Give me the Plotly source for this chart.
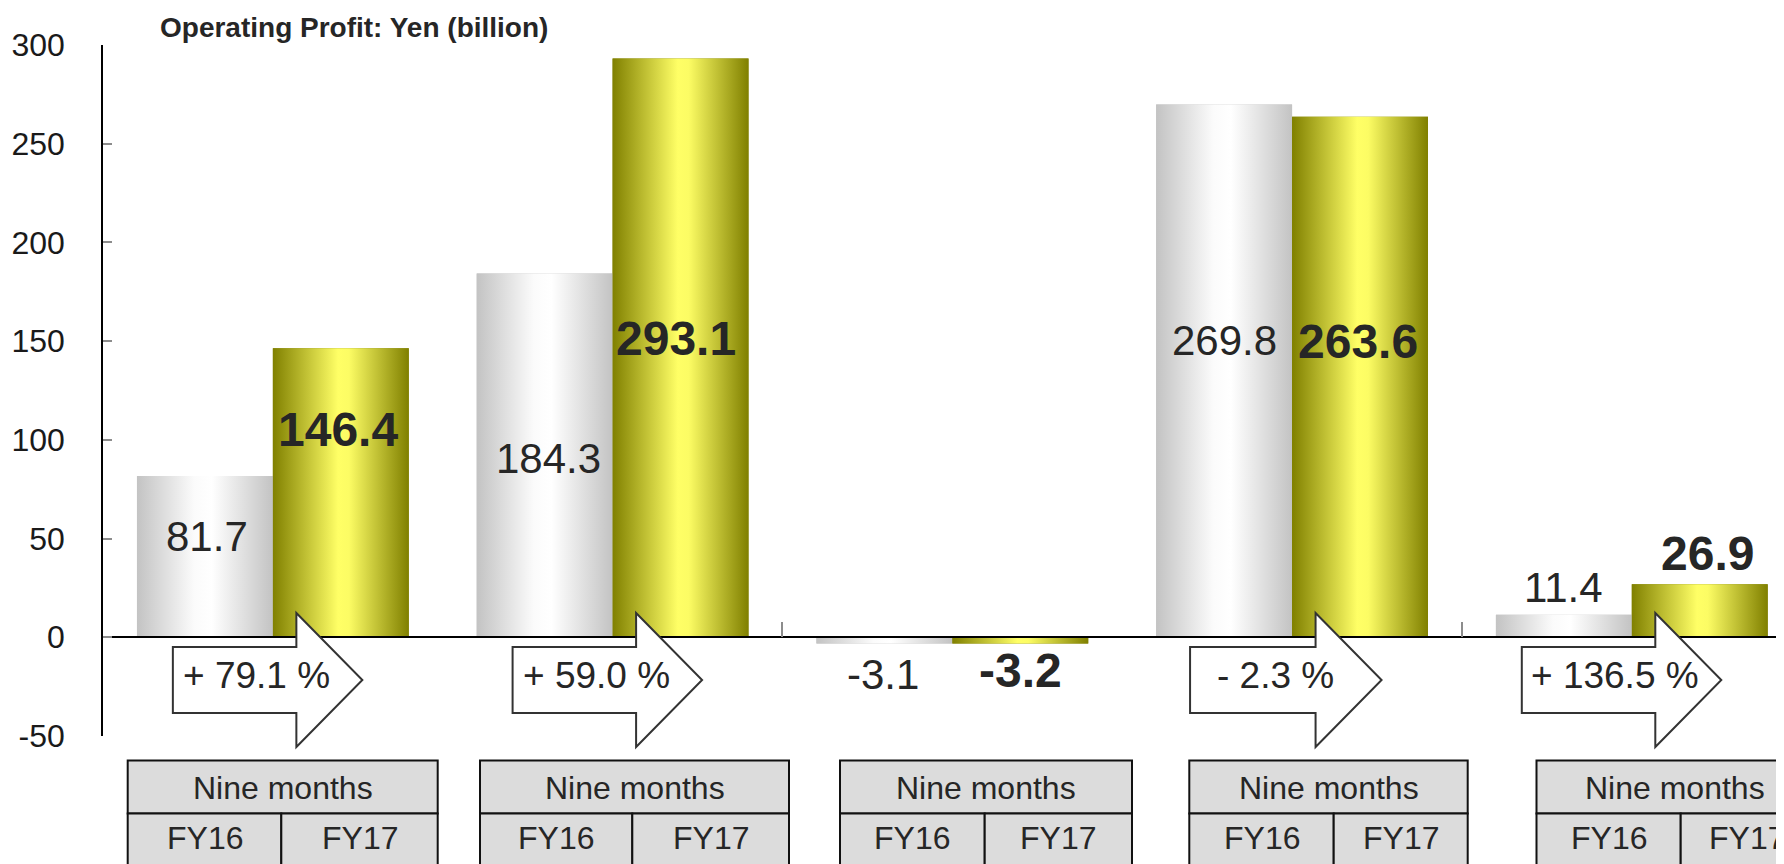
import plotly.graph_objects as go

# ---------------- data ----------------
SERIES_NAMES = ["FY16", "FY17"]
FY16 = [81.7, 184.3, -3.1, 269.8, 11.4]
FY17 = [146.4, 293.1, -3.2, 263.6, 26.9]
CHANGE_LABELS = ["+ 79.1 %", "+ 59.0 %", "", "- 2.3 %", "+ 136.5 %"]
PERIOD_LABEL = "Nine months"
TITLE = "Operating Profit: Yen (billion)"
Y_TICKS = [-50, 0, 50, 100, 150, 200, 250, 300]
Y_TICK_TEXT = ["-50", "0", "50", "100", "150", "200", "250", "300"]
BOLD_SERIES = [False, True]

# ---------------- layout constants ----------------
OFF = 8                      # page body margin of the html page
W, H = 1784 - OFF, 864 - OFF
ML, MT, MB = 95, 37, 128
PW = W - ML
PH = H - MT - MB
Y_MIN, Y_MAX = -50, 300
X_MIN, X_MAX = -0.5, 4.448
BAR_W = 0.4
FONT = "Liberation Sans, Arial, sans-serif"
TXT = "#262626"

GRAY_SCALE = [[0, "#c3c3c3"], [0.42, "#fbfbfb"], [0.55, "#ffffff"], [1, "#c3c3c3"]]
YELLOW_SCALE = [[0, "#808000"], [0.48, "#ffff66"], [0.56, "#fcfc64"], [1, "#808000"]]
SCALES = [GRAY_SCALE, YELLOW_SCALE]
BASE_COLORS = ["#c3c3c3", "#808000"]

# label placement (data units for y, pixel shift for x)
LABEL_Y = [[51.3, 90.7, -19.1, 150.4, 25.0], [105.3, 151.3, -16.8, 149.7, 42.2]]
LABEL_XSHIFT = [[2, 4, -1.5, 0, 0], [-3, -5, 0, -2.5, 7.5]]

# arrows (page-pixel offsets relative to group centre)
ARROW_LEFT = [-100, -100, None, -102, -110]
ARROW_HEAD, ARROW_TIP = 23.5, 89.5
BODY_TOP, BODY_BOT, HEAD_TOP, HEAD_BOT, TIP_Y = 647, 713, 613, 747, 680
ARROW_TEXT_DX = -16.5
ARROW_TEXT_Y = 675

# tables (page-pixel positions)
TABLE_LEFT = [127.7, 480, 840, 1189.3, 1536.5]
TABLE_DIV = [281.3, 632.3, 984.7, 1333.7, 1680.7]
TABLE_RIGHT = [437.7, 789, 1132, 1467.7, 1814]
TABLE_TOP, TABLE_MID, TABLE_BOT = 760.5, 813.5, 870


def px_x(xv):
    """data x -> page pixel x"""
    return OFF + ML + (xv - X_MIN) / (X_MAX - X_MIN) * PW


def paper_x(px):
    return (px - OFF - ML) / PW


def paper_y(py):
    return (H - MB - (py - OFF)) / PH


idx = list(range(len(FY16)))
series = [FY16, FY17]
offsets = [-BAR_W, 0.0]

fig = go.Figure()

# base bars
for s, vals in enumerate(series):
    fig.add_trace(go.Bar(
        x=idx, y=vals, name=SERIES_NAMES[s], width=BAR_W, offset=offsets[s],
        marker=dict(color=BASE_COLORS[s], line=dict(width=0)),
        showlegend=False, hoverinfo="skip",
    ))

# gradient overlay of each bar
for s, vals in enumerate(series):
    for i, v in zip(idx, vals):
        x0 = i + offsets[s]
        x1 = x0 + BAR_W
        fig.add_trace(go.Scatter(
            x=[x0, x1, x1, x0, x0], y=[0, 0, v, v, 0],
            mode="lines", line=dict(width=0), fill="toself",
            fillgradient=dict(type="horizontal", colorscale=SCALES[s], start=x0, stop=x1),
            showlegend=False, hoverinfo="skip",
        ))

annotations = []
shapes = []

# value labels
for s, vals in enumerate(series):
    for i, v in zip(idx, vals):
        annotations.append(dict(
            x=i + offsets[s] + BAR_W / 2, y=LABEL_Y[s][i], xref="x", yref="y",
            xshift=LABEL_XSHIFT[s][i], text=f"{v:.1f}", showarrow=False,
            xanchor="center", yanchor="middle",
            font=dict(family=FONT, size=48 if BOLD_SERIES[s] else 42, color=TXT,
                      weight="bold" if BOLD_SERIES[s] else "normal"),
        ))

# arrows
for i, lab in enumerate(CHANGE_LABELS):
    if not lab:
        continue
    c = px_x(i)
    bl = c + ARROW_LEFT[i]
    hs = c + ARROW_HEAD
    tp = c + ARROW_TIP
    pts = [(bl, BODY_TOP), (hs, BODY_TOP), (hs, HEAD_TOP), (tp, TIP_Y),
           (hs, HEAD_BOT), (hs, BODY_BOT), (bl, BODY_BOT)]
    path = "M " + " L ".join(f"{paper_x(px):.5f},{paper_y(py):.5f}" for px, py in pts) + " Z"
    shapes.append(dict(type="path", path=path, xref="paper", yref="paper",
                       fillcolor="white", line=dict(color="#333333", width=2), layer="above"))
    annotations.append(dict(
        x=paper_x(c + ARROW_TEXT_DX), y=paper_y(ARROW_TEXT_Y), xref="paper", yref="paper",
        text=lab, showarrow=False, xanchor="center", yanchor="middle",
        font=dict(family=FONT, size=37, color=TXT),
    ))

# tables
for i in idx:
    l, d, r = TABLE_LEFT[i], TABLE_DIV[i], TABLE_RIGHT[i]
    for (x0, y0, x1, y1) in [(l, TABLE_TOP, r, TABLE_MID), (l, TABLE_MID, d, TABLE_BOT), (d, TABLE_MID, r, TABLE_BOT)]:
        shapes.append(dict(type="rect", xref="paper", yref="paper",
                           x0=paper_x(x0), x1=paper_x(x1), y0=paper_y(y1), y1=paper_y(y0),
                           fillcolor="#dcdcdc", line=dict(color="#111111", width=2), layer="above"))
    annotations.append(dict(x=paper_x((l + r) / 2), y=paper_y(787.5), xref="paper", yref="paper",
                            text=PERIOD_LABEL, showarrow=False, xanchor="center", yanchor="middle",
                            font=dict(family=FONT, size=32, color=TXT)))
    for name, cx in zip(SERIES_NAMES, [(l + d) / 2, (d + r) / 2]):
        annotations.append(dict(x=paper_x(cx), y=paper_y(837.5), xref="paper", yref="paper",
                                text=name, showarrow=False, xanchor="center", yanchor="middle",
                                font=dict(family=FONT, size=32, color=TXT)))

# title
annotations.append(dict(x=paper_x(158), y=paper_y(27), xref="paper", yref="paper",
                        text=f"<b>{TITLE}</b>", showarrow=False, xanchor="left", yanchor="middle",
                        font=dict(family=FONT, size=28, color=TXT)))

fig.update_layout(
    width=W, height=H,
    margin=dict(l=ML, r=0, t=MT, b=MB, pad=0),
    paper_bgcolor="white", plot_bgcolor="white",
    barmode="overlay",
    showlegend=False,
    shapes=shapes,
    annotations=annotations,
    font=dict(family=FONT, color=TXT),
    xaxis=dict(
        range=[X_MIN, X_MAX], anchor="free", position=(0 - Y_MIN) / (Y_MAX - Y_MIN),
        showline=True, linecolor="#000000", linewidth=1.5,
        ticks="inside", tickvals=[1.5, 3.5], ticklen=15, tickcolor="#8c8c8c", tickwidth=1.5,
        showticklabels=False, showgrid=False, zeroline=False, layer="above traces",
        fixedrange=True,
    ),
    yaxis=dict(
        range=[Y_MIN, Y_MAX], tickvals=Y_TICKS, ticktext=Y_TICK_TEXT,
        showline=True, linecolor="#000000", linewidth=1.5,
        ticks="inside", ticklen=9, tickcolor="#8c8c8c", tickwidth=1.5,
        tickfont=dict(family=FONT, size=32, color="#1a1a1a"),
        ticklabelstandoff=30,
        showgrid=False, zeroline=False, fixedrange=True,
    ),
)

fig.write_html("out.html")
